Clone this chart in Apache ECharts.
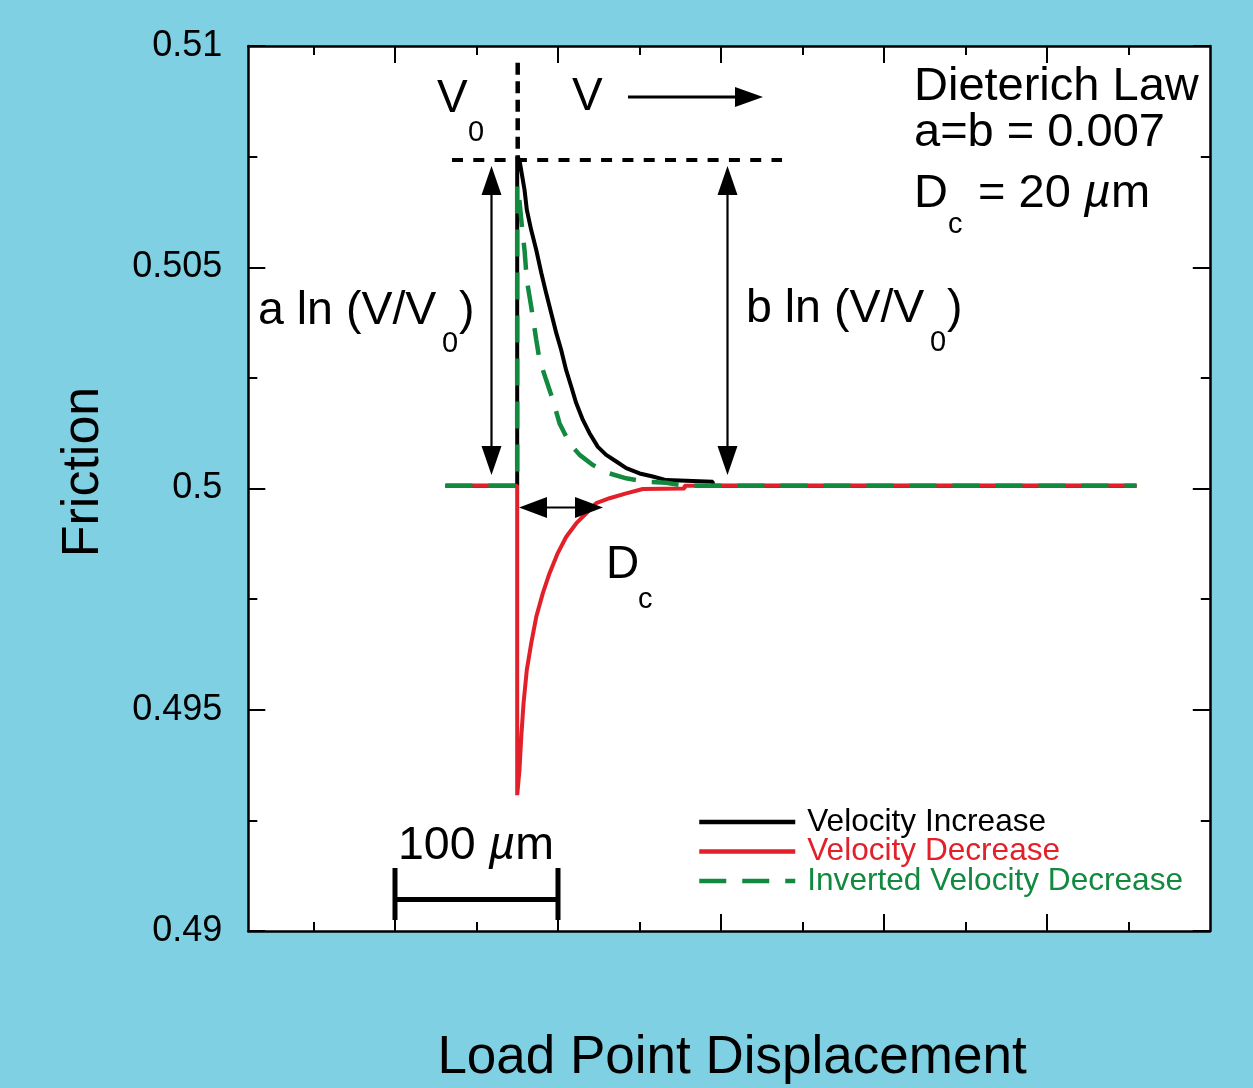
<!DOCTYPE html>
<html><head><meta charset="utf-8">
<script src="https://cdn.jsdelivr.net/npm/echarts@6/dist/echarts.min.js"></script>
<style>html,body{margin:0;padding:0;background:#80D0E3;} #c{width:1253px;height:1088px;}</style>
</head><body><div id="c"></div>
<script>
// Load point displacement in µm (relative), friction coefficient
const velocityIncrease = [
  [31.0,0.50006],[75.0,0.50006],[75.0,0.50750],[76.4,0.50742],[79.5,0.50675],[80.9,0.50630],
  [83.6,0.50584],[86.7,0.50539],[89.8,0.50487],[92.8,0.50441],[95.9,0.50396],[99.0,0.50351],
  [102.0,0.50313],[105.0,0.50268],[108.2,0.50230],[111.2,0.50193],[115.3,0.50155],[119.4,0.50125],
  [124.5,0.50094],[129.6,0.50076],[135.8,0.50061],[141.9,0.50046],[150.1,0.50034],[158.2,0.50027],
  [166.4,0.50019],[174.6,0.50018],[195.0,0.50015],[195.0,0.50006],[455.0,0.50006]
];
const velocityDecrease = [
  [31.0,0.50006],[75.0,0.50006],[75.0,0.49307],[76.4,0.49364],[77.5,0.49439],[78.9,0.49515],
  [80.9,0.49590],[83.6,0.49650],[86.7,0.49710],[90.7,0.49763],[94.8,0.49808],[99.9,0.49854],
  [105.1,0.49891],[111.2,0.49921],[117.4,0.49944],[123.5,0.49967],[131.7,0.49978],[141.9,0.49989],
  [152.1,0.49999],[177.7,0.50000],[177.7,0.50006],[455.0,0.50006]
];
const invertedDecrease = [
  [31.0,0.50006],[75.0,0.50006],[75.0,0.50685],[76.4,0.50650],[78.1,0.50584],[79.5,0.50539],
  [80.9,0.50471],[83.6,0.50411],[86.7,0.50336],[88.7,0.50291],[92.8,0.50245],[96.9,0.50200],
  [101.0,0.50147],[107.1,0.50102],[113.3,0.50076],[121.4,0.50053],[131.7,0.50034],[141.9,0.50023],
  [154.2,0.50015],[166.4,0.50013],[177.7,0.50006],[455.0,0.50006]
];
const seriesNames = ['Velocity Increase','Velocity Decrease','Inverted Velocity Decrease'];
const xMajorTicks = [0,100,200,300,400];
const xMinorTicks = [-50,50,150,250,350,450];
const yTickLabels = ['0.49','0.495','0.5','0.505','0.51'];

const FONT = "'Liberation Sans', Arial, Helvetica, sans-serif";
const RED = '#E2202A', GREEN = '#11893F', BLACK = '#000';

function txt(text, x, y, size, extra) {
  const style = Object.assign({
    text: text, x: x, y: y, fontSize: size, fontFamily: FONT, fill: '#000',
    textAlign: 'left', textVerticalAlign: 'middle', align: 'left', verticalAlign: 'middle'
  }, extra || {});
  return { type: 'text', z: 100, style: style };
}
function line(x1,y1,x2,y2,w,dash){
  return { type:'line', z:100, shape:{x1,y1,x2,y2}, style:{stroke:'#000', lineWidth:w, lineDash: dash || null} };
}
function tri(pts){ return { type:'polygon', z:100, shape:{points:pts}, style:{fill:'#000'} }; }

const chart = echarts.init(document.getElementById('c'), null, {renderer:'canvas'});

function xAx(pos, ticks, len, showLine){
  return { type:'value', position:pos, min:-90, max:500,
    axisLine:{show:showLine, onZero:false, lineStyle:{color:'#000', width:2.5}},
    axisTick:{show:true, inside:true, length:len, customValues:ticks, lineStyle:{color:'#000', width:2}},
    axisLabel:{show:false}, splitLine:{show:false} };
}
function yAx(pos, labels){
  return { type:'value', position:pos, min:0.49, max:0.51, interval:0.005,
    axisLine:{show:true, onZero:false, lineStyle:{color:'#000', width:2.5}},
    axisTick:{show:true, inside:true, length:17, lineStyle:{color:'#000', width:2}},
    minorTick:{show:true, splitNumber:2, length:9, lineStyle:{color:'#000', width:2}},
    axisLabel:{show:labels, margin:26, fontSize:36, fontFamily:FONT, color:'#000',
      formatter: v => { const s = String(parseFloat(v.toFixed(4))); return yTickLabels.indexOf(s) >= 0 ? s : ''; } },
    splitLine:{show:false} };
}

const option = {
  backgroundColor:'#80D0E3',
  animation:false,
  grid:{left:248.3, top:46, right:1253-1209.8, bottom:1088-931, show:true, backgroundColor:'#fff', borderWidth:0},
  xAxis:[ xAx('bottom', xMajorTicks, 17, true), xAx('bottom', xMinorTicks, 9, false),
          xAx('top', xMajorTicks, 17, true), xAx('top', xMinorTicks, 9, false) ],
  yAxis:[ yAx('left', true), yAx('right', false) ],
  legend:{
    orient:'vertical', left:697, top:806, padding:0, itemGap:-2.5,
    itemWidth:96, itemHeight:14,
    itemStyle:{opacity:0, borderWidth:0},
    lineStyle:{width:4.5},
    textStyle:{fontSize:31.6, fontFamily:FONT, lineHeight:29.5, padding:[0,0,0,7]},
    data:[
      {name:seriesNames[0], textStyle:{color:BLACK}},
      {name:seriesNames[1], textStyle:{color:RED}},
      {name:seriesNames[2], textStyle:{color:GREEN}}
    ]
  },
  series:[
    {name:seriesNames[0], type:'line', data:velocityIncrease, symbol:'none', showSymbol:false,
      color:BLACK, lineStyle:{color:BLACK, width:4}},
    {name:seriesNames[1], type:'line', data:velocityDecrease, symbol:'none', showSymbol:false,
      color:RED, lineStyle:{color:RED, width:4}},
    {name:seriesNames[2], type:'line', data:invertedDecrease, symbol:'none', showSymbol:false,
      color:GREEN, lineStyle:{color:GREEN, width:4.5, type:[27,16]}}
  ],
  graphic:[
    // axis titles
    txt('Friction', 0, 0, 52, {textAlign:'center', align:'center'}),
    txt('Load Point Displacement', 732, 1058, 53, {textAlign:'center', align:'center'}),
    // V0 | V ->
    txt('V', 437, 99, 46),
    txt('0', 468, 133, 29),
    txt('V', 572, 97, 46),
    line(628, 97, 740, 97, 2.8),
    tri([[763,97],[735,87],[735,107]]),
    line(517.7, 62.7, 517.7, 158, 4.5, [12, 6.5]),
    line(452, 160, 782, 160, 4, [11, 10.3]),
    // a ln (V/V0)
    line(491.5, 190, 491.5, 450, 2.2),
    tri([[491.5,166],[481.5,195],[501.5,195]]),
    tri([[491.5,475],[481.5,446],[501.5,446]]),
    txt('a ln (V/V', 258, 311, 46.5),
    txt('0', 442, 344, 29),
    txt(')', 459, 311, 46.5),
    // b ln (V/V0)
    line(727.5, 190, 727.5, 450, 2.2),
    tri([[727.5,166],[717.5,195],[737.5,195]]),
    tri([[727.5,475],[717.5,446],[737.5,446]]),
    txt('b ln (V/V', 746, 309, 46.5),
    txt('0', 930, 343, 29),
    txt(')', 947, 309, 46.5),
    // Dc arrow
    line(540, 507.5, 582, 507.5, 2.2),
    tri([[519,507.5],[547,497],[547,518]]),
    tri([[603,507.5],[575,497],[575,518]]),
    txt('D', 606, 565, 46),
    txt('c', 638, 600, 29),
    // parameter block
    txt('Dieterich Law', 914, 87, 47),
    txt('a=b = 0.007', 914, 133, 47),
    txt('D', 914, 194, 47),
    txt('c', 948, 225, 29),
    txt('= 20 {it|µ}m', 978, 194, 47, {rich:{it:{fontStyle:'italic', fontSize:47, fontFamily:FONT, fill:'#000'}}}),
    // scale bar
    txt('100 {it|µ}m', 398, 846, 46.5, {rich:{it:{fontStyle:'italic', fontSize:46.5, fontFamily:FONT, fill:'#000'}}}),
    line(395, 899.5, 558, 899.5, 5),
    line(395, 868, 395, 920, 5),
    line(558, 868, 558, 920, 5)
  ]
};
// rotate Friction
option.graphic[0].rotation = Math.PI/2;
option.graphic[0].x = 84; option.graphic[0].y = 472;
chart.setOption(option);
</script></body></html>
